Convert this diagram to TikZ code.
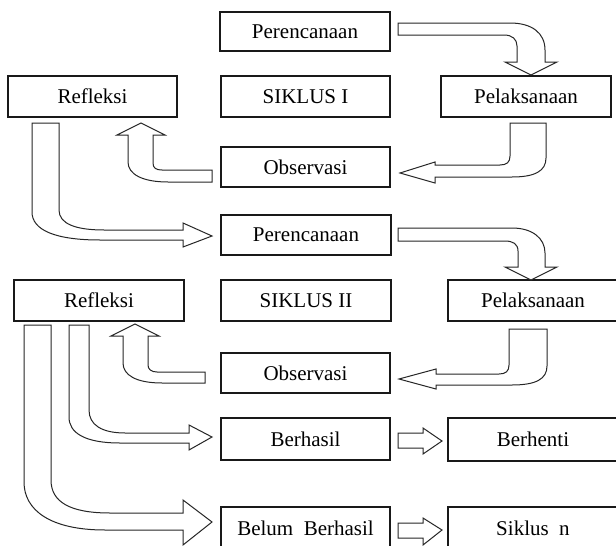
\documentclass[tikz,border=0pt]{standalone}
\usepackage{fontspec}
\setmainfont{Liberation Serif}
\begin{document}
\begin{tikzpicture}[x=1pt,y=-1pt,
  box/.style={draw=black!90,line width=1.1pt,fill=white,rectangle,inner sep=0pt,
    font=\fontsize{21}{25}\selectfont},
  blockarrow/.style={draw=black!85,line width=1pt,fill=white,line join=miter}]
\useasboundingbox (0,0) rectangle (616,546);
\clip (0,0) rectangle (616,546);
\fill[white] (0,0) rectangle (616,546);

% ---- Siklus I
\node[box,minimum width=170,minimum height=39] (P1) at (305,31.5) {Perencanaan};
\node[box,minimum width=169,minimum height=41] (R1) at (92.5,96.5) {Refleksi};
\node[box,minimum width=169,minimum height=41] (S1) at (305.5,96.5) {SIKLUS I};
\node[box,minimum width=170,minimum height=41] (L1) at (526,96.5) {Pelaksanaan};
\node[box,minimum width=169,minimum height=40] (O1) at (305.5,167) {Observasi};

% ---- Siklus II
\node[box,minimum width=170,minimum height=40] (P2) at (306,235) {Perencanaan};
\node[box,minimum width=170,minimum height=41] (R2) at (99,300.5) {Refleksi};
\node[box,minimum width=170,minimum height=41] (S2) at (306,300.5) {SIKLUS II};
\node[box,minimum width=182,minimum height=41] (L2) at (539,300.5) {\hspace*{-12pt}Pelaksanaan};
\node[box,minimum width=169,minimum height=40] (O2) at (305.5,373) {Observasi};
\node[box,minimum width=169,minimum height=42] (B) at (305.5,439) {Berhasil};
\node[box,minimum width=182,minimum height=43] (BH) at (539,439.5) {\hspace*{-12pt}Berhenti};
\node[box,minimum width=169,minimum height=42] (BB) at (305.5,528) {Belum\ \ Berhasil};
\node[box,minimum width=182,minimum height=42] (SN) at (539,528) {\hspace*{-12pt}Siklus\ \ n};

% ---- block arrows
% Perencanaan I -> Pelaksanaan I
\draw[blockarrow] (398,23) -- (510,23) .. controls (532,23) and (545,33) .. (545,50)
  -- (545,62) -- (557,62) -- (531,75) -- (505,62) -- (517,62) -- (517,46)
  .. controls (517,39) and (512,35) .. (504,35) -- (398,35) -- cycle;
% Pelaksanaan I -> Observasi I
\draw[blockarrow] (510,123) -- (546,123) -- (546,158) .. controls (546,171) and (535,177) .. (512,177)
  -- (435,177) -- (435,183) -- (400,173) -- (435,162) -- (435,165) -- (500,165)
  .. controls (507,165) and (510,162) .. (510,156) -- cycle;
% Observasi I -> Refleksi I
\draw[blockarrow] (212,170) -- (212,182) -- (168,182) .. controls (142,182) and (128,174) .. (128,162)
  -- (128,135) -- (117,135) -- (141,123) -- (165,135) -- (153,135) -- (153,163)
  .. controls (153,168) and (156,170) .. (162,170) -- cycle;
% Refleksi I -> Perencanaan II
\draw[blockarrow] (32,123) -- (59,123) -- (59,210) .. controls (59,224) and (76,230) .. (104,230)
  -- (183,230) -- (183,223) -- (212,236) -- (183,247) -- (183,240) -- (100,240)
  .. controls (55,240) and (32,230) .. (32,212) -- cycle;
% Perencanaan II -> Pelaksanaan II
\draw[blockarrow] (398,228) -- (512,228) .. controls (532,228) and (545,238) .. (545,253)
  -- (545,267) -- (557,267) -- (531,280) -- (505,267) -- (518,267) -- (518,251)
  .. controls (518,244) and (513,241) .. (505,241) -- (398,241) -- cycle;
% Pelaksanaan II -> Observasi II
\draw[blockarrow] (509,329) -- (547,329) -- (547,366) .. controls (547,379) and (536,385) .. (512,385)
  -- (436,385) -- (436,389) -- (399,379) -- (436,369) -- (436,374) -- (499,374)
  .. controls (506,374) and (509,371) .. (509,365) -- cycle;
% Observasi II -> Refleksi II
\draw[blockarrow] (205,372) -- (205,383) -- (162,383) .. controls (136,383) and (123,375) .. (123,363)
  -- (123,336) -- (111,336) -- (135,324) -- (159,336) -- (148,336) -- (148,365)
  .. controls (148,369) and (151,372) .. (157,372) -- cycle;
% Refleksi II -> Berhasil
\draw[blockarrow] (69,325) -- (89,325) -- (89,410) .. controls (89,425) and (102,433) .. (125,433)
  -- (189,433) -- (189,425) -- (212,437) -- (189,450) -- (189,443) -- (120,443)
  .. controls (85,443) and (69,433) .. (69,417) -- cycle;
% Refleksi II -> Belum Berhasil
\draw[blockarrow] (24,325) -- (51,325) -- (51,480) .. controls (51,502) and (70,513) .. (110,513)
  -- (183,513) -- (183,500) -- (212,522) -- (183,545) -- (183,530) -- (105,530)
  .. controls (50,530) and (24,510) .. (24,482) -- cycle;
% Berhasil -> Berhenti
\draw[blockarrow] (398,433) -- (423,433) -- (423,428) -- (442,441) -- (423,454) -- (423,448) -- (398,448) -- cycle;
% Belum Berhasil -> Siklus n
\draw[blockarrow] (398,523) -- (423,523) -- (423,518) -- (442,530) -- (423,545) -- (423,538) -- (398,538) -- cycle;
\end{tikzpicture}
\end{document}
